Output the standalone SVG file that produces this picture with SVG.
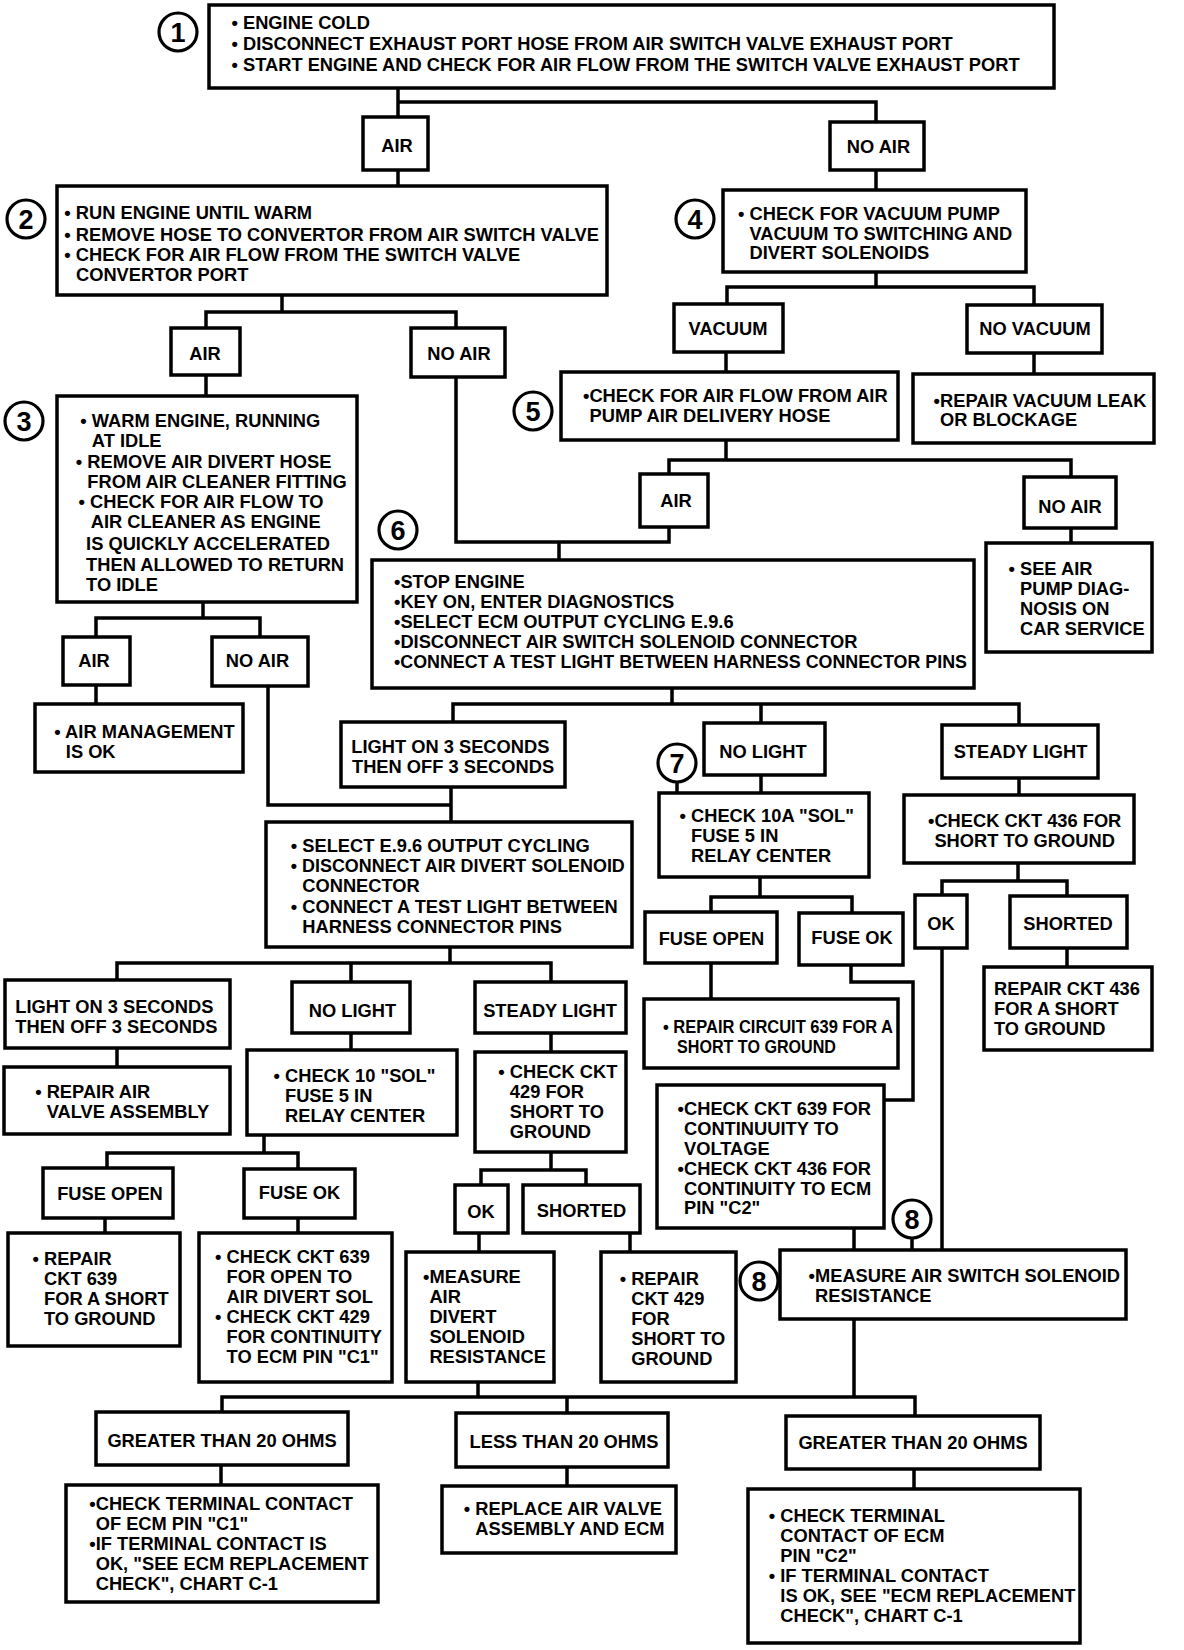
<svg xmlns="http://www.w3.org/2000/svg" width="1184" height="1650" viewBox="0 0 1184 1650">
<style>
.b{fill:#fff;stroke:#000;stroke-width:3.5}
.k{fill:none;stroke:#000;stroke-width:3.5}
text{font-family:"Liberation Sans",Arial,Helvetica,sans-serif;font-weight:bold;font-size:18.3px;fill:#000}
.c{text-anchor:middle}
.n{fill:#fff;stroke:#000;stroke-width:3.2}
.d{font-size:27px;text-anchor:middle}
</style>
<rect width="1184" height="1650" fill="#fff"/>
<g id="connectors">
<path class="k" d="M398,88V117 M398,102H876V122 M398,170V186 M876,170V190 M282,295V312 M206,328V312H456V328 M206,375V396 M456,377V542H669V527 M559,542V560 M876,272V287 M727,304V287H1034V305 M726,352V372 M1034,353V374 M726,440V460 M669,474V460H1071V477 M1071,528V543 M203,602V618 M96,637V618H260V637 M96,685V704 M268,686V805H451 M672,688V704 M453,722V704H1019V725 M761,704V723 M451,787V822 M761,775V793 M1019,778V795 M450,947V963 M117,980V963H551V982 M351,963V982 M117,1048V1067 M351,1033V1050 M551,1033V1052 M264,1135V1153 M107,1168V1153H298V1169 M551,1152V1170 M481,1185V1170H586V1185 M105,1218V1233 M298,1218V1233 M479,1233V1252 M630,1233V1252 M478,1382V1397 M222,1412V1397H915V1416 M567,1397V1413 M854,1319V1397 M221,1465V1485 M567,1467V1486 M914,1469V1489 M760,877V897 M711,912V897H852V913 M711,963V999 M851,965V982H913V1100H884 M1018,863V881 M942,895V881H1067V896 M1067,948V967 M942,948V1250 M854,1228V1250 M912,1238V1250 M677,782V793"/>
</g>
<g id="step1"><circle class="n" cx="178" cy="32" r="19"/><text class="d" x="178" y="41.5">1</text></g>
<g id="n1"><rect class="b" x="209" y="5" width="845" height="83"/>
<text x="231.5" y="29.3">• ENGINE COLD</text>
<text x="231.5" y="50">• DISCONNECT EXHAUST PORT HOSE FROM AIR SWITCH VALVE EXHAUST PORT</text>
<text x="231.5" y="70.7">• START ENGINE AND CHECK FOR AIR FLOW FROM THE SWITCH VALVE EXHAUST PORT</text></g>
<g id="air1"><rect class="b" x="363" y="117" width="65" height="53"/><text class="c" x="397" y="151.7">AIR</text></g>
<g id="noair1"><rect class="b" x="830" y="122" width="94" height="48"/><text class="c" x="878.5" y="153">NO AIR</text></g>
<g id="step2"><circle class="n" cx="26" cy="219" r="19"/><text class="d" x="26" y="228.5">2</text></g>
<g id="n2"><rect class="b" x="57" y="186" width="550" height="109"/>
<text x="64.3" y="219">• RUN ENGINE UNTIL WARM</text>
<text x="64.3" y="240.5">• REMOVE HOSE TO CONVERTOR FROM AIR SWITCH VALVE</text>
<text x="64.3" y="260.5">• CHECK FOR AIR FLOW FROM THE SWITCH VALVE</text>
<text x="76" y="280.5">CONVERTOR PORT</text></g>
<g id="step4"><circle class="n" cx="695" cy="219" r="19"/><text class="d" x="695" y="228.5">4</text></g>
<g id="n4"><rect class="b" x="723" y="190" width="303" height="82"/>
<text x="738" y="220">• CHECK FOR VACUUM PUMP</text>
<text x="749.5" y="240">VACUUM TO SWITCHING AND</text>
<text x="749.5" y="259">DIVERT SOLENOIDS</text></g>
<g id="air2"><rect class="b" x="171" y="328" width="69" height="47"/><text class="c" x="205" y="360">AIR</text></g>
<g id="noair2"><rect class="b" x="411" y="328" width="94" height="49"/><text class="c" x="459" y="360">NO AIR</text></g>
<g id="vacuum"><rect class="b" x="674" y="304" width="109" height="48"/><text class="c" x="728" y="335">VACUUM</text></g>
<g id="novacuum"><rect class="b" x="967" y="305" width="135" height="48"/><text class="c" x="1035" y="335">NO VACUUM</text></g>
<g id="step3"><circle class="n" cx="24" cy="421" r="19"/><text class="d" x="24" y="430.5">3</text></g>
<g id="n3"><rect class="b" x="57" y="396" width="300" height="206"/>
<text x="80.3" y="426.7">• WARM ENGINE, RUNNING</text>
<text x="91.8" y="446.7">AT IDLE</text>
<text x="75.8" y="468.3">• REMOVE AIR DIVERT HOSE</text>
<text x="87.3" y="488.3">FROM AIR CLEANER FITTING</text>
<text x="78.5" y="508.3">• CHECK FOR AIR FLOW TO</text>
<text x="90.7" y="528.3">AIR CLEANER AS ENGINE</text>
<text x="86.1" y="550">IS QUICKLY ACCELERATED</text>
<text x="86.1" y="570.7">THEN ALLOWED TO RETURN</text>
<text x="86.1" y="590.7">TO IDLE</text></g>
<g id="step5"><circle class="n" cx="533" cy="411" r="19"/><text class="d" x="533" y="420.5">5</text></g>
<g id="n5"><rect class="b" x="561" y="372" width="337" height="68"/>
<text x="583" y="401.7">•CHECK FOR AIR FLOW FROM AIR</text>
<text x="589.6" y="421.7">PUMP AIR DELIVERY HOSE</text></g>
<g id="repairvac"><rect class="b" x="913" y="374" width="241" height="69"/>
<text x="933.6" y="406.7">•REPAIR VACUUM LEAK</text>
<text x="940" y="426">OR BLOCKAGE</text></g>
<g id="air5"><rect class="b" x="640" y="474" width="68" height="53"/><text class="c" x="676" y="506.7">AIR</text></g>
<g id="noair5"><rect class="b" x="1024" y="477" width="92" height="51"/><text class="c" x="1070" y="513">NO AIR</text></g>
<g id="seeair"><rect class="b" x="986" y="543" width="166" height="109"/>
<text x="1008.5" y="575">• SEE AIR</text>
<text x="1020" y="595">PUMP DIAG-</text>
<text x="1020" y="615">NOSIS ON</text>
<text x="1020" y="635">CAR SERVICE</text></g>
<g id="step6"><circle class="n" cx="398" cy="530" r="19"/><text class="d" x="398" y="539.5">6</text></g>
<g id="n6"><rect class="b" x="372" y="560" width="602" height="128"/>
<text x="394" y="588.3">•STOP ENGINE</text>
<text x="394" y="608.3">•KEY ON, ENTER DIAGNOSTICS</text>
<text x="394" y="628.3">•SELECT ECM OUTPUT CYCLING E.9.6</text>
<text x="394" y="648.3">•DISCONNECT AIR SWITCH SOLENOID CONNECTOR</text>
<text x="394" y="668.3" textLength="573" lengthAdjust="spacingAndGlyphs">•CONNECT A TEST LIGHT BETWEEN HARNESS CONNECTOR PINS</text></g>
<g id="air3"><rect class="b" x="63" y="637" width="67" height="48"/><text class="c" x="94" y="666.7">AIR</text></g>
<g id="noair3"><rect class="b" x="212" y="637" width="96" height="49"/><text class="c" x="257.5" y="666.7">NO AIR</text></g>
<g id="airmgmt"><rect class="b" x="35" y="704" width="208" height="68"/>
<text x="54.3" y="738.3">• AIR MANAGEMENT</text>
<text x="65.8" y="758.3">IS OK</text></g>
<g id="lighton1"><rect class="b" x="341" y="722" width="224" height="65"/>
<text x="351.3" y="752.7">LIGHT ON 3 SECONDS</text>
<text x="352" y="772.7">THEN OFF 3 SECONDS</text></g>
<g id="step7"><circle class="n" cx="677" cy="763" r="19"/><text class="d" x="677" y="772.5">7</text></g>
<g id="nolight1"><rect class="b" x="704" y="723" width="121" height="52"/><text class="c" x="763" y="758">NO LIGHT</text></g>
<g id="steady1"><rect class="b" x="942" y="725" width="156" height="53"/><text class="c" x="1020.5" y="758">STEADY LIGHT</text></g>
<g id="n7"><rect class="b" x="659" y="793" width="210" height="84"/>
<text x="679.5" y="821.7">• CHECK 10A "SOL"</text>
<text x="691" y="841.7">FUSE 5 IN</text>
<text x="691" y="861.7">RELAY CENTER</text></g>
<g id="ckt436"><rect class="b" x="904" y="795" width="230" height="68"/>
<text x="928" y="826.7">•CHECK CKT 436 FOR</text>
<text x="934.4" y="846.7">SHORT TO GROUND</text></g>
<g id="select"><rect class="b" x="266" y="822" width="366" height="125"/>
<text x="290.8" y="851.7">• SELECT E.9.6 OUTPUT CYCLING</text>
<text x="290.8" y="871.7" textLength="334" lengthAdjust="spacingAndGlyphs">• DISCONNECT AIR DIVERT SOLENOID</text>
<text x="302.3" y="891.7">CONNECTOR</text>
<text x="290.8" y="913.3">• CONNECT A TEST LIGHT BETWEEN</text>
<text x="302.3" y="933.3">HARNESS CONNECTOR PINS</text></g>
<g id="fuseopen1"><rect class="b" x="645" y="912" width="132" height="51"/><text class="c" x="711.5" y="945">FUSE OPEN</text></g>
<g id="fuseok1"><rect class="b" x="799" y="913" width="104" height="52"/><text class="c" x="852" y="944">FUSE OK</text></g>
<g id="ok1"><rect class="b" x="915" y="895" width="52" height="53"/><text class="c" x="941" y="930">OK</text></g>
<g id="shorted1"><rect class="b" x="1010" y="896" width="117" height="52"/><text class="c" x="1068" y="930">SHORTED</text></g>
<g id="repairckt436"><rect class="b" x="984" y="967" width="168" height="83"/>
<text x="994" y="995">REPAIR CKT 436</text>
<text x="994" y="1015">FOR A SHORT</text>
<text x="994" y="1035">TO GROUND</text></g>
<g id="repaircircuit639"><rect class="b" x="644" y="999" width="254" height="69"/>
<text x="663" y="1033.3" textLength="230" lengthAdjust="spacingAndGlyphs">• REPAIR CIRCUIT 639 FOR A</text>
<text x="677" y="1053.3" textLength="159" lengthAdjust="spacingAndGlyphs">SHORT TO GROUND</text></g>
<g id="lighton2"><rect class="b" x="5" y="980" width="225" height="68"/>
<text x="15.3" y="1013.3">LIGHT ON 3 SECONDS</text>
<text x="15.3" y="1033.3">THEN OFF 3 SECONDS</text></g>
<g id="nolight2"><rect class="b" x="292" y="982" width="118" height="51"/><text class="c" x="352.5" y="1016.7">NO LIGHT</text></g>
<g id="steady2"><rect class="b" x="475" y="982" width="151" height="51"/><text class="c" x="550" y="1016.7">STEADY LIGHT</text></g>
<g id="repairairvalve"><rect class="b" x="4" y="1067" width="226" height="67"/>
<text x="35.2" y="1098.3">• REPAIR AIR</text>
<text x="46.7" y="1118.3">VALVE ASSEMBLY</text></g>
<g id="check10"><rect class="b" x="247" y="1050" width="210" height="85"/>
<text x="273.5" y="1081.7">• CHECK 10 "SOL"</text>
<text x="285" y="1101.7">FUSE 5 IN</text>
<text x="285" y="1121.7">RELAY CENTER</text></g>
<g id="ckt429"><rect class="b" x="475" y="1052" width="151" height="100"/>
<text x="498.3" y="1078.3">• CHECK CKT</text>
<text x="509.8" y="1098.3">429 FOR</text>
<text x="509.8" y="1118.3">SHORT TO</text>
<text x="509.8" y="1138.3">GROUND</text></g>
<g id="ckt639cont"><rect class="b" x="657" y="1085" width="227" height="143"/>
<text x="677.6" y="1115">•CHECK CKT 639 FOR</text>
<text x="684" y="1135">CONTINUUITY TO</text>
<text x="684" y="1155">VOLTAGE</text>
<text x="677.6" y="1175">•CHECK CKT 436 FOR</text>
<text x="684" y="1195">CONTINUITY TO ECM</text>
<text x="684" y="1214">PIN "C2"</text></g>
<g id="fuseopen2"><rect class="b" x="43" y="1168" width="130" height="50"/><text class="c" x="110" y="1200">FUSE OPEN</text></g>
<g id="fuseok2"><rect class="b" x="244" y="1169" width="111" height="49"/><text class="c" x="299.5" y="1199">FUSE OK</text></g>
<g id="ok2"><rect class="b" x="455" y="1185" width="53" height="48"/><text class="c" x="481" y="1218">OK</text></g>
<g id="shorted2"><rect class="b" x="523" y="1185" width="117" height="48"/><text class="c" x="581.5" y="1217">SHORTED</text></g>
<g id="repairckt639"><rect class="b" x="8" y="1233" width="172" height="113"/>
<text x="32.5" y="1265">• REPAIR</text>
<text x="44" y="1285">CKT 639</text>
<text x="44" y="1305">FOR A SHORT</text>
<text x="44" y="1325">TO GROUND</text></g>
<g id="ckt639open"><rect class="b" x="199" y="1233" width="193" height="149"/>
<text x="215.1" y="1262.7">• CHECK CKT 639</text>
<text x="226.6" y="1282.7">FOR OPEN TO</text>
<text x="226.6" y="1302.7">AIR DIVERT SOL</text>
<text x="215.1" y="1322.7">• CHECK CKT 429</text>
<text x="226.6" y="1342.7">FOR CONTINUITY</text>
<text x="226.6" y="1362.7">TO ECM PIN "C1"</text></g>
<g id="measuredivert"><rect class="b" x="406" y="1252" width="148" height="130"/>
<text x="423" y="1283.3">•MEASURE</text>
<text x="429.4" y="1303.3">AIR</text>
<text x="429.4" y="1323.3">DIVERT</text>
<text x="429.4" y="1343.3">SOLENOID</text>
<text x="429.4" y="1363.3">RESISTANCE</text></g>
<g id="repairckt429"><rect class="b" x="601" y="1252" width="135" height="130"/>
<text x="619.7" y="1285">• REPAIR</text>
<text x="631.2" y="1305">CKT 429</text>
<text x="631.2" y="1325">FOR</text>
<text x="631.2" y="1345">SHORT TO</text>
<text x="631.2" y="1365">GROUND</text></g>
<g id="step8a"><circle class="n" cx="912" cy="1219" r="19"/><text class="d" x="912" y="1228.5">8</text></g>
<g id="step8b"><circle class="n" cx="759" cy="1281" r="19"/><text class="d" x="759" y="1290.5">8</text></g>
<g id="measureswitch"><rect class="b" x="780" y="1250" width="346" height="69"/>
<text x="808.6" y="1281.7">•MEASURE AIR SWITCH SOLENOID</text>
<text x="815" y="1301.7">RESISTANCE</text></g>
<g id="greater1"><rect class="b" x="96" y="1412" width="252" height="53"/><text class="c" x="222" y="1446.7">GREATER THAN 20 OHMS</text></g>
<g id="less"><rect class="b" x="456" y="1413" width="212" height="54"/><text class="c" x="564" y="1448">LESS THAN 20 OHMS</text></g>
<g id="greater2"><rect class="b" x="786" y="1416" width="254" height="53"/><text class="c" x="913" y="1449">GREATER THAN 20 OHMS</text></g>
<g id="termc1"><rect class="b" x="66" y="1485" width="312" height="117"/>
<text x="89.3" y="1510">•CHECK TERMINAL CONTACT</text>
<text x="95.7" y="1530">OF ECM PIN "C1"</text>
<text x="89.3" y="1550">•IF TERMINAL CONTACT IS</text>
<text x="95.7" y="1570">OK, "SEE ECM REPLACEMENT</text>
<text x="95.7" y="1590">CHECK", CHART C-1</text></g>
<g id="replace"><rect class="b" x="442" y="1486" width="234" height="67"/>
<text x="463.8" y="1515">• REPLACE AIR VALVE</text>
<text x="475.3" y="1535">ASSEMBLY AND ECM</text></g>
<g id="termc2"><rect class="b" x="748" y="1489" width="332" height="154"/>
<text x="768.8" y="1521.7">• CHECK TERMINAL</text>
<text x="780.3" y="1541.7">CONTACT OF ECM</text>
<text x="780.3" y="1561.7">PIN "C2"</text>
<text x="768.8" y="1581.7">• IF TERMINAL CONTACT</text>
<text x="780.3" y="1601.7">IS OK, SEE "ECM REPLACEMENT</text>
<text x="780.3" y="1621.7">CHECK", CHART C-1</text></g>
</svg>
